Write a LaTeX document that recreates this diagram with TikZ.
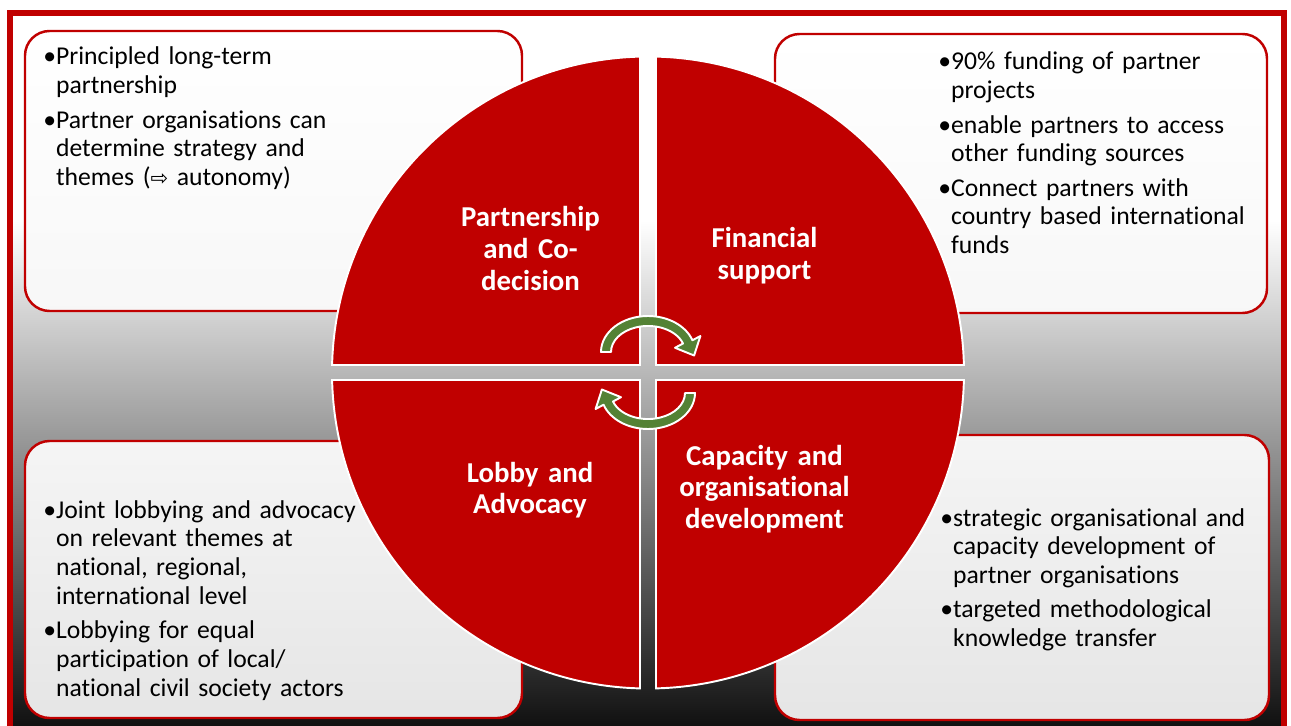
\documentclass[tikz,border=0pt]{standalone}
\usepackage{fontspec}
\setmainfont{Carlito}[Ligatures=NoCommon]
\newfontfamily\symbolfont{DejaVu Sans}
\usepackage{tikz}

\definecolor{deepred}{RGB}{192,0,0}
\definecolor{leafgreen}{RGB}{84,130,53}

\pgfdeclareverticalshading{backdrop}{100bp}{color(0bp)=(black!94); color(25bp)=(black!94); color(60.5bp)=(white); color(100bp)=(white)}

% one bullet paragraph with hanging indent
\newcommand{\bul}[1]{\setbox0\hbox{•}\hangindent=\wd0 \hangafter=1 \noindent\box0\relax #1\par}

\tikzset{
    outerframe/.style={draw=deepred, line width=3.4pt},
    topbox/.style={draw=deepred, line width=1.4pt, rounded corners=14pt, top color=white, bottom color=black!3},
    lowbox/.style={draw=deepred, line width=1.4pt, rounded corners=14pt, top color=black!4, bottom color=black!10},
    quadrant/.style={fill=deepred, draw=white, line width=1.1pt},
    cyclearrow/.style={fill=leafgreen, draw=white, line width=1.1pt, line join=round},
    seglabel/.style={text=white, font=\fontsize{16.4}{18.2}\selectfont\bfseries, align=center, text width=5cm, anchor=base, inner sep=0pt},
    listtext/.style={font=\fontsize{14.6}{16.4}\selectfont, text width=8cm, anchor=base west, inner sep=0pt, align=left, execute at begin node=\setlength{\parskip}{3.1pt}},
}

\begin{document}
\begin{tikzpicture}[x=0.02cm, y=-0.02cm]
        \useasboundingbox (0,0) rectangle (1291,726);
        %draw frame and backdrop
        \fill[white] (0,0) rectangle (1291,726);
        \shade[shading=backdrop] (10,13) rectangle (1284,729);
        \draw[outerframe] (10,13) rectangle (1284,729);
        %draw boxes
        \draw[topbox] (25,31) rectangle (522,311);
        \draw[topbox] (775,34) rectangle (1267,313);
        \draw[lowbox] (25,441) rectangle (522,718);
        \draw[lowbox] (775,435) rectangle (1269,720);
        %box texts
        \node[listtext] (partnertext) at (43,65) {\bul{Principled long-term\newline partnership}%
            \bul{Partner organisations can\newline determine strategy and\newline themes ({\symbolfont\large ⇨} autonomy)}};
        \node[listtext] (fundtext) at (938,70) {\bul{90\% funding of partner\newline projects}%
            \bul{enable partners to access\newline other funding sources}%
            \bul{Connect partners with\newline country based international\newline funds}};
        \node[listtext] (lobbytext) at (43,518) {\bul{Joint lobbying and advocacy\newline on relevant themes at\newline national, regional,\newline international level}%
            \bul{Lobbying for equal\newline participation of local/\newline national civil society actors}};
        \node[listtext] (capacitytext) at (940,526) {\bul{strategic organisational and\newline capacity development of\newline partner organisations}%
            \bul{targeted methodological\newline knowledge transfer}};
        %draw circle quadrants
        \draw[quadrant] (640,365) -- (332.1,365) arc[start angle=181.36, end angle=268.55, radius=316] -- cycle;
        \draw[quadrant] (656,365) -- (656,56.6) arc[start angle=271.45, end angle=358.64, radius=316] -- cycle;
        \draw[quadrant] (656,380) -- (963.9,380) arc[start angle=1.36, end angle=88.55, radius=316] -- cycle;
        \draw[quadrant] (640,380) -- (640,688.4) arc[start angle=91.45, end angle=178.64, radius=316] -- cycle;
        %quadrant labels
        \node[seglabel] (partner) at (530.5,227) {Partnership\\ and Co-\\ decision};
        \node[seglabel] (finance) at (764.5,248) {Financial\\ support};
        \node[seglabel] (lobby) at (530,482) {Lobby and\\ Advocacy};
        \node[seglabel] (capacity) at (764.5,465) {Capacity and\\ organisational\\ development};
        %draw arrows
        \draw[cyclearrow] (601,352) arc[start angle=180, end angle=341, x radius=47, y radius=36]
            -- (700.4,336) -- (694.1,355.5) -- (675,347.8) -- (683,343.5)
            arc[start angle=341, end angle=180, x radius=37, y radius=26] -- cycle;
        \draw[cyclearrow, rotate around={180:(648,372.5)}] (601,352) arc[start angle=180, end angle=341, x radius=47, y radius=36]
            -- (700.4,336) -- (694.1,355.5) -- (675,347.8) -- (683,343.5)
            arc[start angle=341, end angle=180, x radius=37, y radius=26] -- cycle;
    \end{tikzpicture}
\end{document}
